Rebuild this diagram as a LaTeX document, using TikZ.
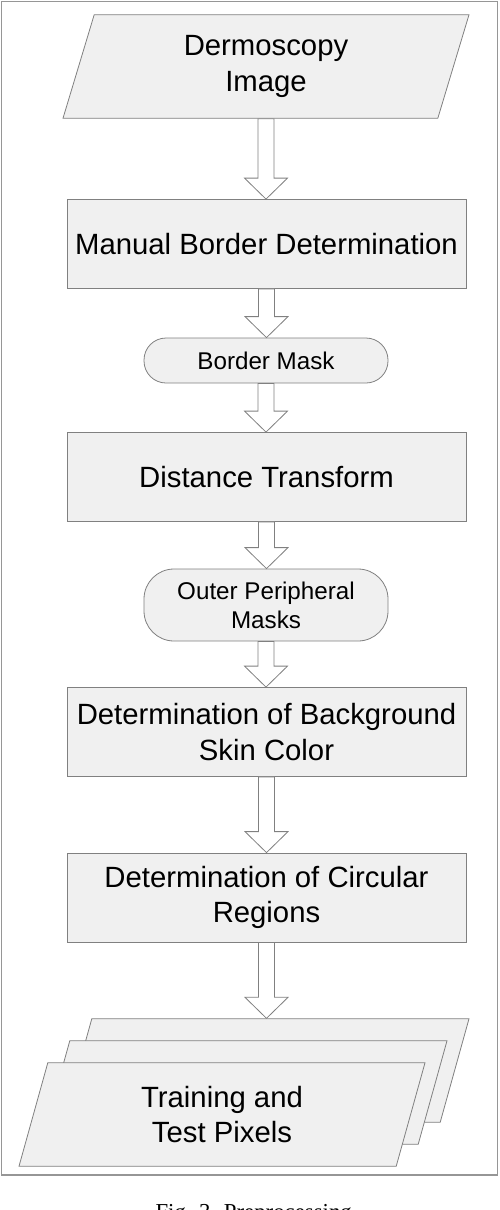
\documentclass[tikz,border=0pt]{standalone}
\usepackage{fontspec}
\setmainfont{Liberation Serif}
\setsansfont{Liberation Sans}
\usetikzlibrary{shapes.geometric,calc}
\definecolor{boxfill}{RGB}{240,240,240}
\definecolor{edgegray}{RGB}{128,128,128}
\definecolor{framegray}{RGB}{150,150,150}

\tikzset{
  procbox/.style={rectangle,draw=edgegray,fill=boxfill,line width=0.8pt,
    minimum width=399pt,minimum height=89pt,inner sep=0pt,align=center,
    font=\sffamily\fontsize{29.3}{35.5}\selectfont},
  termbox/.style={rectangle,draw=edgegray,fill=boxfill,line width=0.8pt,
    rounded corners=22pt,minimum width=244pt,minimum height=45pt,
    inner sep=0pt,align=center,font=\sffamily\fontsize{24.2}{29}\selectfont},
  databox/.style={trapezium,trapezium left angle=63.2,trapezium right angle=116.8,
    trapezium stretches body,draw=edgegray,fill=boxfill,line width=0.8pt,
    minimum width=406pt,minimum height=103.5pt,inner sep=0pt,align=center,
    font=\sffamily\fontsize{29.3}{35.5}\selectfont},
  blockarrow/.style={draw=edgegray,fill=white,line width=0.8pt,line join=miter}
}

% hollow block arrow from one node down to the next
\newcommand{\blockarrow}[2]{%
  \filldraw[blockarrow] let \p1=(#1.south), \p2=(#2.north), \p3=(#1.center) in
    (\x3-8pt,\y1) -- (\x3-8pt,\y2+21pt) -- (\x3-21.5pt,\y2+21pt) -- (\x3,\y2)
    -- (\x3+21.5pt,\y2+21pt) -- (\x3+8pt,\y2+21pt) -- (\x3+8pt,\y1) -- cycle;}

\begin{document}
\begin{tikzpicture}[x=1pt,y=-1pt]

  \clip (0,0) rectangle (500,1210);

  %,  Frame, 
  \draw[framegray,line width=1.2pt] (1.5,1.5) rectangle (497.5,1175);

  %,  Steps, 
  \node[databox] (dimg) at (266,66.5) {Dermoscopy\\Image};
  \node[procbox] (manual) at (266.5,244) {Manual Border Determination};
  \node[termbox] (bmask) at (266,360.5) {Border Mask};
  \node[procbox] (dist) at (266.5,477) {Distance Transform};
  \node[termbox,minimum height=72pt,rounded corners=30pt] (omask) at (266,605)
    {Outer Peripheral\\Masks};
  \node[procbox] (bgskin) at (266.5,732) {Determination of Background\\Skin Color};
  \node[procbox] (circ) at (266.5,897.5) {Determination of Circular\\Regions};

  %,  Stacked output, 
  \node[databox] (pixb) at (266,1070.5) {\phantom{Training and}\\\phantom{Test Pixels}};
  \node[databox] (pixm) at (244,1092.5) {\phantom{Training and}\\\phantom{Test Pixels}};
  \node[databox] (pix) at (222,1114.5) {Training and\\Test Pixels};

  %,  Arrows, 
  \foreach \a/\b in {dimg/manual,manual/bmask,bmask/dist,dist/omask,
                     omask/bgskin,bgskin/circ,circ/pixb}
    \blockarrow{\a}{\b};

  %,  Caption, 
  \node[font=\rmfamily\fontsize{22.8}{27}\selectfont,anchor=base west]
    (cap) at (152,1219) {Fig. 3. Preprocessing};

\end{tikzpicture}
\end{document}
